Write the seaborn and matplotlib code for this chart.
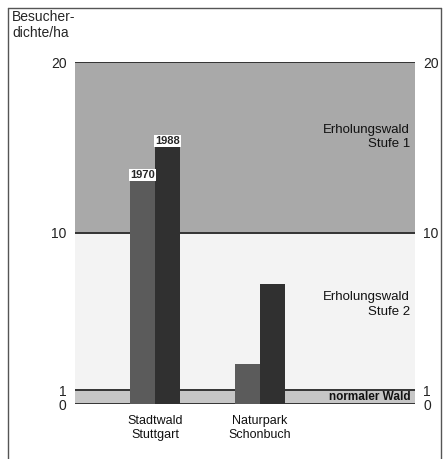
import matplotlib
matplotlib.use('Agg')
import matplotlib.pyplot as plt
import pandas as pd
import seaborn as sns
import numpy as np

# data
regions = ['Stadtwald\nStuttgart', 'Naturpark\nSchonbuch']
years = ['1970', '1988']
val_1970 = [13.1, 2.5]
val_1988 = [15.1, 7.1]

# bands: (low, high, label)
band_edges = [0, 1, 10, 20]
band_labels = ['normaler Wald', 'Erholungswald\nStufe 2', 'Erholungswald\nStufe 1']
ytick_vals = [0, 1, 10, 20]

df = pd.DataFrame({
    'region': regions * 2,
    'year': [years[0]] * 2 + [years[1]] * 2,
    'value': val_1970 + val_1988,
})

sns.set_style('white')
plt.rcParams['font.family'] = ['Liberation Sans', 'DejaVu Sans']

# the original axis is piecewise linear (0-1 squeezed, 1-10 and 10-20 stretched)
data_pts = np.array([0, 1, 10, 20], dtype=float)
pix_pts = np.array([0, 14, 171, 342], dtype=float)


def fwd(v):
    return np.interp(v, data_pts, pix_pts, left=-1e3, right=1e3)


def inv(p):
    return np.interp(p, pix_pts, data_pts)


fig = plt.figure(figsize=(4.47, 4.59), dpi=100)
ax = fig.add_axes([75 / 447, 55 / 459, 340 / 447, 342 / 459])
ax.set_yscale('function', functions=(fwd, inv))

band_colors = ['#c6c6c6', '#f3f3f3', '#a9a9a9']
for i in range(3):
    ax.axhspan(band_edges[i], band_edges[i + 1], color=band_colors[i], zorder=0, lw=0)

sns.barplot(data=df, x='region', y='value', hue='year', hue_order=years,
            palette={'1970': '#5b5b5b', '1988': '#303030'}, width=0.476,
            saturation=1, legend=False, ax=ax, zorder=3, edgecolor='none')

for y in ytick_vals:
    ax.axhline(y, color='#333333', lw=1.4, zorder=2)

ax.set_xlim(-0.762, 2.476)
ax.set_ylim(0, 20)
ax.set_yticks(ytick_vals)
ax.set_yticklabels([str(v) for v in ytick_vals])
ax.tick_params(axis='y', length=0, pad=6, labelsize=10, labelleft=True, labelright=True,
               colors='#222222')
ax.tick_params(axis='x', length=0, pad=8, labelsize=9, colors='#111111')
ax.set_xlabel('')
ax.set_ylabel('')
for s in ax.spines.values():
    s.set_visible(False)

# year labels on the Stadtwald bars only
for cont, yr in zip(ax.containers, years):
    bar = cont.patches[0]
    ax.text(bar.get_x() + bar.get_width() / 2, bar.get_height(), yr,
            ha='center', va='bottom', fontsize=8, fontweight='bold', zorder=5,
            bbox=dict(facecolor='white', edgecolor='none', pad=0.6))

# band labels
ax.text(2.43, 15.6, band_labels[2], ha='right', va='center', fontsize=9.5, linespacing=1.25,
        zorder=4, color='#111111')
ax.text(2.43, 5.9, band_labels[1], ha='right', va='center', fontsize=9.5, linespacing=1.25,
        zorder=4, color='#111111')
ax.text(2.43, 0.5, band_labels[0], ha='right', va='center', fontsize=8.5, fontweight='bold',
        zorder=4, color='#111111')

fig.text(12 / 447, 1 - 40 / 459, 'Besucher-\ndichte/ha', ha='left', va='bottom', fontsize=10,
         linespacing=1.15)

# frame around the figure
fig.add_artist(plt.Line2D([8 / 447, 8 / 447], [0, 1 - 8 / 459], color='#555555', lw=1))
fig.add_artist(plt.Line2D([8 / 447, 441 / 447], [1 - 8 / 459, 1 - 8 / 459], color='#555555', lw=1))
fig.add_artist(plt.Line2D([441 / 447, 441 / 447], [0, 1 - 8 / 459], color='#555555', lw=1))

fig.savefig('out.png', dpi=100)
